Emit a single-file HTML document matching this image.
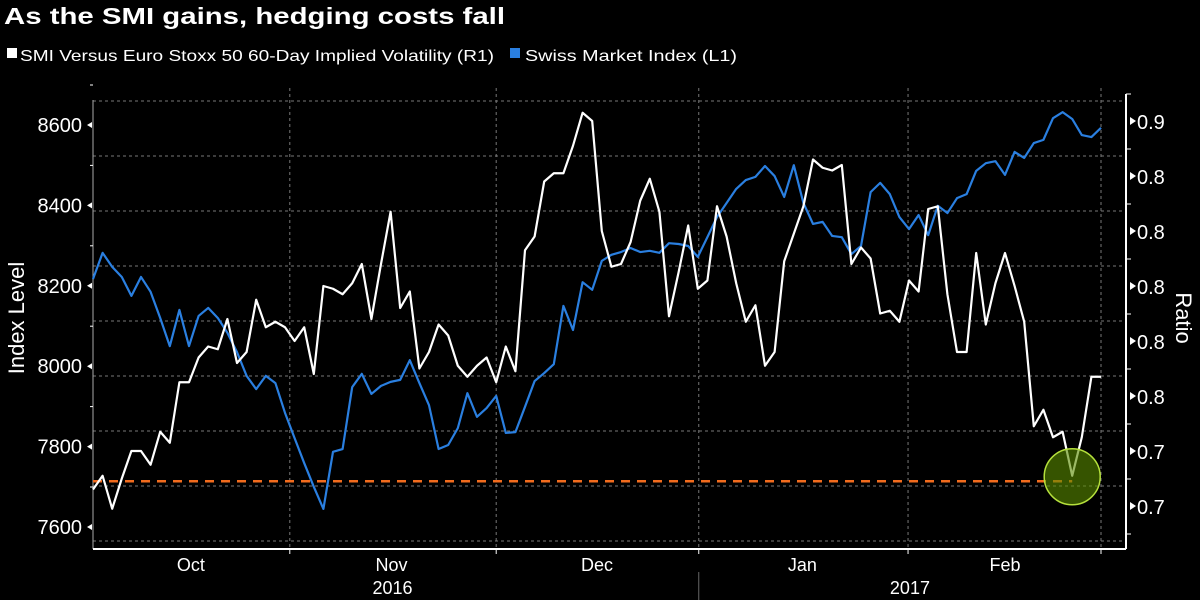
<!DOCTYPE html>
<html><head><meta charset="utf-8"><style>
html,body{margin:0;padding:0;background:#000;}
svg{display:block;font-family:"Liberation Sans","DejaVu Sans",sans-serif;}
</style></head><body>
<svg id="chart" width="1200" height="600" viewBox="0 0 1200 600">
<rect width="1200" height="600" fill="#000"/>
<text x="4" y="24" fill="#fff" font-size="23" font-weight="bold" textLength="501" lengthAdjust="spacingAndGlyphs">As the SMI gains, hedging costs fall</text>
<g>
<g><rect x="7" y="48" width="10" height="10" fill="#fff"/><text x="20" y="61" fill="#fff" font-size="16" textLength="474" lengthAdjust="spacingAndGlyphs">SMI Versus Euro Stoxx 50 60-Day Implied Volatility (R1)</text></g>
<g><rect x="510" y="48" width="10" height="10" fill="#2a7fe0"/><text x="525" y="61" fill="#fff" font-size="16" textLength="212" lengthAdjust="spacingAndGlyphs">Swiss Market Index  (L1)</text></g>
</g>
<g id="grid"></g>
<g id="axes"></g>
<g id="series"></g>
<text transform="translate(24,318) rotate(-90)" text-anchor="middle" fill="#fff" font-size="22">Index Level</text>
<text transform="translate(1176,318) rotate(90)" text-anchor="middle" fill="#fff" font-size="22">Ratio</text>
</svg>
<script>
const smi = [8217,8282,8247,8222,8175,8222,8185,8120,8050,8140,8050,8125,8145,8120,8083,8035,7976,7943,7976,7958,7884,7821,7759,7700,7645,7787,7794,7948,7981,7931,7951,7961,7966,8015,7958,7903,7794,7804,7846,7933,7874,7896,7926,7834,7836,7899,7963,7983,8005,8150,8090,8209,8190,8262,8277,8284,8294,8284,8287,8282,8306,8304,8299,8272,8321,8371,8406,8441,8463,8471,8498,8473,8421,8500,8406,8354,8359,8324,8321,8279,8299,8433,8456,8428,8371,8341,8376,8326,8399,8381,8418,8428,8486,8505,8510,8476,8533,8518,8555,8563,8617,8632,8615,8575,8570,8593];
const ratio = [0.766,0.771,0.759,0.770,0.780,0.780,0.775,0.787,0.783,0.805,0.805,0.814,0.818,0.817,0.828,0.812,0.816,0.835,0.825,0.827,0.825,0.820,0.825,0.808,0.840,0.839,0.837,0.841,0.848,0.828,0.848,0.867,0.832,0.838,0.810,0.816,0.826,0.822,0.811,0.807,0.811,0.814,0.805,0.818,0.809,0.853,0.858,0.878,0.881,0.881,0.891,0.903,0.900,0.860,0.847,0.848,0.856,0.871,0.879,0.867,0.829,0.845,0.862,0.839,0.842,0.869,0.858,0.841,0.827,0.833,0.811,0.816,0.849,0.859,0.869,0.886,0.883,0.882,0.884,0.848,0.854,0.850,0.830,0.831,0.827,0.842,0.838,0.868,0.869,0.837,0.816,0.816,0.852,0.826,0.841,0.852,0.840,0.827,0.789,0.795,0.785,0.787,0.771,0.785,0.807,0.807];
const leftTicks = [7600,7800,8000,8200,8400,8600];
const rightTicks = [0.90,0.88,0.86,0.84,0.82,0.80,0.78,0.76];
const rightTickLabels = ["0.9","0.8","0.8","0.8","0.8","0.8","0.7","0.7"];
const monthBounds = [20.5,42,63.1,84.9,105];
const monthLabels = ["Oct","Nov","Dec","Jan","Feb"];
const monthLabelPos = [10.2,31.1,52.5,73.9,95];
const yearLabels = ["2016","2017"];
const yearLabelPos = [31.2,85.1];
const refLevel = 0.769;
const lowIndex = 102;

const NS="http://www.w3.org/2000/svg";
const X0=93, DX=9.6, PL=93, PR=1126, PT=88, PB=549;
const x=i=>X0+i*DX;
const yL=v=>527-(v-7600)*402/1000;
const yR=v=>506-(v-0.76)*385/0.14;
function mk(tag,attrs,parent){const e=document.createElementNS(NS,tag);for(const k in attrs)e.setAttribute(k,attrs[k]);parent.appendChild(e);return e;}
const grid=document.getElementById('grid'),axes=document.getElementById('axes'),ser=document.getElementById('series');

for(let k=0;k<9;k++){const gy=yR(0.9)-20+k*55;
 const l=mk('line',{x1:PL,x2:PR,y1:gy,y2:gy,stroke:'#777','stroke-width':1,'stroke-dasharray':'3,3'},grid);
 
 }
monthBounds.forEach(b=>{const l=mk('line',{x1:x(b),x2:x(b),y1:PT,y2:PB,stroke:'#777','stroke-width':1,'stroke-dasharray':'3,3'},grid);
 
 });

let a=mk('line',{x1:PL,x2:PL,y1:PT+12,y2:PB,stroke:'#aaa','stroke-width':1},axes);


leftTicks.forEach(v=>{const t=mk('text',{x:82,y:yL(v)+7,'text-anchor':'end',fill:'#fff','font-size':20},axes);t.textContent=v;
 
 
 mk('path',{d:`M${PL-6} ${yL(v)}l5 -3v6z`,fill:'#fff'},axes);
 mk('line',{x1:PL-3,x2:PL,y1:yL(v)-40,y2:yL(v)-40,stroke:'#fff'},axes);});
a=mk('line',{x1:PR,x2:PR,y1:PT+6,y2:PB,stroke:'#fff','stroke-width':2},axes);


rightTicks.forEach((v,i)=>{const t=mk('text',{x:1137,y:yR(v)+8,fill:'#fff','font-size':20},axes);t.textContent=rightTickLabels[i];
 
 
 mk('path',{d:`M${PR+10} ${yR(v)}l-6 -4v8z`,fill:'#fff'},axes);
 mk('line',{x1:PR,x2:PR+5,y1:yR(v)-27,y2:yR(v)-27,stroke:'#fff'},axes);});
mk('line',{x1:PR,x2:PR+5,y1:yR(0.76)+28,y2:yR(0.76)+28,stroke:'#fff'},axes);
a=mk('line',{x1:PL,x2:PR,y1:PB,y2:PB,stroke:'#fff','stroke-width':2},axes);


monthBounds.forEach(b=>mk('line',{x1:x(b),x2:x(b),y1:PB,y2:PB+5,stroke:'#fff'},axes));
monthLabels.forEach((m,i)=>{const t=mk('text',{x:x(monthLabelPos[i]),y:571,'text-anchor':'middle',fill:'#fff','font-size':18},axes);t.textContent=m;
 
 });
yearLabels.forEach((m,i)=>{const t=mk('text',{x:x(yearLabelPos[i]),y:594,'text-anchor':'middle',fill:'#fff','font-size':18},axes);t.textContent=m;
 
 });
mk('line',{x1:x(63.1),x2:x(63.1),y1:572,y2:600,stroke:'#666'},axes);

let r=mk('line',{x1:PL,x2:x(lowIndex),y1:yR(refLevel),y2:yR(refLevel),stroke:'#f26b1d','stroke-width':2.5,'stroke-dasharray':'9,7'},ser);


let p=mk('polyline',{points:smi.map((v,i)=>x(i)+','+yL(v)).join(' '),fill:'none',stroke:'#2a7fe0','stroke-width':2.2,'stroke-linejoin':'round'},ser);


p=mk('polyline',{points:ratio.map((v,i)=>x(i)+','+yR(v)).join(' '),fill:'none',stroke:'#fff','stroke-width':2.2,'stroke-linejoin':'round'},ser);


let c=mk('circle',{cx:x(lowIndex),cy:yR(ratio[lowIndex])+1,r:28,fill:'rgba(90,140,0,0.6)',stroke:'#b5e03c','stroke-width':1.5},ser);


</script>
</body></html>
